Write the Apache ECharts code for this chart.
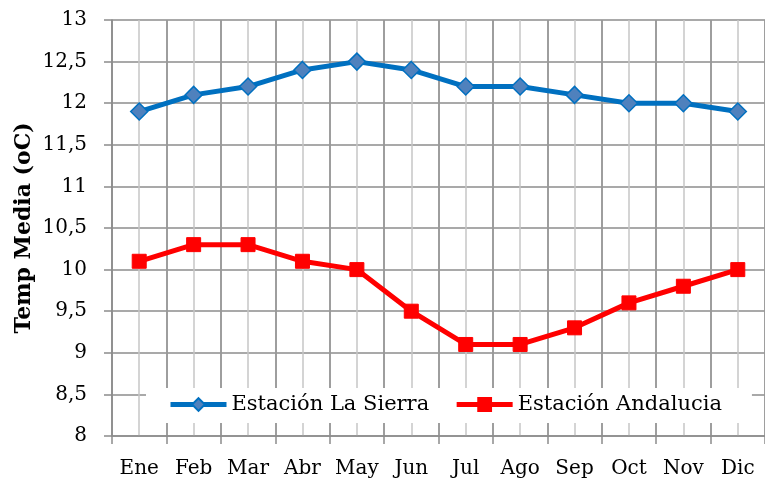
<!DOCTYPE html>
<html>
<head>
<meta charset="utf-8">
<script src="https://cdn.jsdelivr.net/npm/echarts@6/dist/echarts.min.js"></script>
<style>
  html, body { margin: 0; padding: 0; background: #fff; }
  #chart { width: 765px; height: 483px; }
</style>
</head>
<body>
<div id="chart"></div>
<script>
// months and monthly mean temperature of the two stations
var months = ['Ene', 'Feb', 'Mar', 'Abr', 'May', 'Jun', 'Jul', 'Ago', 'Sep', 'Oct', 'Nov', 'Dic'];
var sierra = [11.9, 12.1, 12.2, 12.4, 12.5, 12.4, 12.2, 12.2, 12.1, 12.0, 12.0, 11.9];
var andalucia = [10.1, 10.3, 10.3, 10.1, 10.0, 9.5, 9.1, 9.1, 9.3, 9.6, 9.8, 10.0];

var font = 'DejaVu Serif';
var darkGrid = '#8c8c8c';
var lightGrid = '#c6c6c6';

var myChart = echarts.init(document.getElementById('chart'));

var option = {
    backgroundColor: '#fff',
    animation: false,
    textStyle: { fontFamily: font },
    grid: { left: 112, top: 20, width: 655, bottom: 47 },
    legend: {
        left: 146,
        top: 388,
        backgroundColor: '#fff',
        padding: [6, 30, 8, 22],
        itemWidth: 56,
        itemHeight: 16,
        itemGap: 25,
        lineStyle: { width: 5 },
        textStyle: { fontFamily: font, fontSize: 21, color: '#000' },
        data: ['Estación La Sierra', 'Estación Andalucia']
    },
    xAxis: [
        {
            // only used to draw the light lines through each month
            type: 'value',
            min: 0,
            max: 24,
            interval: 1,
            position: 'top',
            axisLine: { show: false },
            axisTick: { show: false },
            axisLabel: { show: false },
            splitLine: { show: true, lineStyle: { color: lightGrid, width: 1.5 } }
        },
        {
            type: 'category',
            data: months,
            boundaryGap: true,
            position: 'bottom',
            z: 1,
            axisLine: { lineStyle: { color: darkGrid, width: 1.5 } },
            axisTick: { show: true, interval: 0, length: 8, lineStyle: { color: darkGrid, width: 1.5 } },
            axisLabel: { color: '#000', fontSize: 20, margin: 23, interval: 0, hideOverlap: false },
            splitLine: { show: true, interval: 0, lineStyle: { color: darkGrid, width: 1.5 } }
        }
    ],
    yAxis: {
        type: 'value',
        min: 8,
        max: 13,
        interval: 0.5,
        name: 'Temp Media (oC)',
        nameLocation: 'middle',
        nameGap: 77,
        nameMoveOverlap: false,
        nameRotate: 90,
        nameTextStyle: { fontFamily: font, fontSize: 22, fontWeight: 'bold', color: '#000' },
        axisLine: { show: true, lineStyle: { color: darkGrid, width: 1.5 } },
        axisTick: { show: true, length: 8, lineStyle: { color: darkGrid, width: 1.5 } },
        axisLabel: {
            color: '#000',
            fontSize: 20,
            margin: 25,
            formatter: function (v) { return String(v).replace('.', ','); }
        },
        splitLine: { show: true, lineStyle: { color: darkGrid, width: 1.5 } }
    },
    series: [
        {
            name: 'Estación La Sierra',
            type: 'line',
            xAxisIndex: 1,
            data: sierra,
            symbol: 'diamond',
            symbolSize: 17,
            lineStyle: { color: '#0070c0', width: 5 },
            itemStyle: { color: '#4f81bd', borderColor: '#0070c0', borderWidth: 1.5 }
        },
        {
            name: 'Estación Andalucia',
            type: 'line',
            xAxisIndex: 1,
            data: andalucia,
            symbol: 'rect',
            symbolSize: 14,
            lineStyle: { color: '#ff0000', width: 5 },
            itemStyle: { color: '#ff0000', borderColor: '#ff0000', borderWidth: 1 }
        }
    ]
};

myChart.setOption(option);
</script>
</body>
</html>
